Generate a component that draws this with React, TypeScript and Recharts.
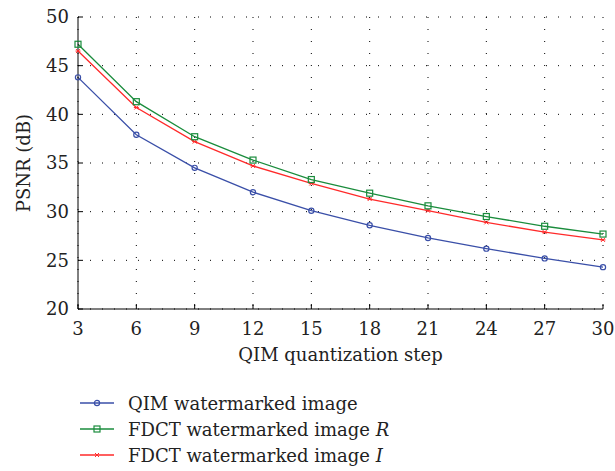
import { LineChart, Line, XAxis, YAxis, CartesianGrid } from "recharts";

const steps = [3, 6, 9, 12, 15, 18, 21, 24, 27, 30];
const qim = [43.8, 37.9, 34.5, 32.0, 30.1, 28.6, 27.3, 26.2, 25.2, 24.3];
const fdctR = [47.2, 41.3, 37.7, 35.3, 33.3, 31.9, 30.6, 29.5, 28.5, 27.7];
const fdctI = [46.5, 40.7, 37.2, 34.7, 32.9, 31.3, 30.1, 28.9, 27.9, 27.1];
const yTicks = [20, 25, 30, 35, 40, 45, 50];

const FONT = "DejaVu Serif";
const BLUE = "#3a4fa8";
const GREEN = "#1a8c3c";
const RED = "#ff2a2a";

const data = steps.map((s, i) => ({ step: s, qim: qim[i], fdctR: fdctR[i], fdctI: fdctI[i] }));

const CircleDot = (p: any) => (
  <circle key={p.index} cx={p.cx} cy={p.cy} r={2.6} fill="none" stroke={BLUE} strokeWidth={1.2} />
);
const SquareDot = (p: any) => (
  <rect key={p.index} x={p.cx - 3} y={p.cy - 3} width={6} height={6} fill="none" stroke={GREEN} strokeWidth={1.2} />
);
const StarDot = (p: any) => (
  <g key={p.index} stroke={RED} strokeWidth={1}>
    <line x1={p.cx - 2} y1={p.cy - 2} x2={p.cx + 2} y2={p.cy + 2} />
    <line x1={p.cx - 2} y1={p.cy + 2} x2={p.cx + 2} y2={p.cy - 2} />
    <line x1={p.cx - 2.5} y1={p.cy} x2={p.cx + 2.5} y2={p.cy} />
  </g>
);

const YLabel = ({ viewBox }: any) => {
  const cy = viewBox.y + viewBox.height / 2;
  return (
    <text x={30} y={cy} transform={`rotate(-90, 30, ${cy})`} textAnchor="middle" fontFamily={FONT} fontSize={18} fill="#222">
      PSNR (dB)
    </text>
  );
};

const legendItems = [
  { label: "QIM watermarked image", suffix: "", color: BLUE, kind: "circle" },
  { label: "FDCT watermarked image ", suffix: "R", color: GREEN, kind: "square" },
  { label: "FDCT watermarked image ", suffix: "I", color: RED, kind: "star" },
];

function LegendBox() {
  return (
    <div style={{ position: "absolute", left: 78, top: 390 }}>
      {legendItems.map((it) => (
        <div key={it.label + it.suffix} style={{ display: "flex", alignItems: "center", height: 26 }}>
          <svg width={40} height={12} style={{ marginRight: 10 }}>
            <line x1={2} y1={6} x2={36} y2={6} stroke={it.color} strokeWidth={1.3} />
            {it.kind === "circle" && <circle cx={19} cy={6} r={2.6} fill="none" stroke={it.color} strokeWidth={1.2} />}
            {it.kind === "square" && <rect x={16} y={3} width={6} height={6} fill="none" stroke={it.color} strokeWidth={1.2} />}
            {it.kind === "star" && (
              <g stroke={it.color} strokeWidth={1}>
                <line x1={17} y1={4} x2={21} y2={8} />
                <line x1={17} y1={8} x2={21} y2={4} />
              </g>
            )}
          </svg>
          <span style={{ fontFamily: FONT, fontSize: 18, color: "#222", whiteSpace: "pre" }}>
            {it.label}
            {it.suffix && <i>{it.suffix}</i>}
          </span>
        </div>
      ))}
    </div>
  );
}

const tickStyle = { fontFamily: FONT, fontSize: 18, fill: "#222" };

export default function App() {
  return (
    <div style={{ position: "absolute", left: 0, top: 0, width: 615, height: 471, background: "#fff" }}>
      <LineChart width={615} height={471} data={data} margin={{ top: 17, right: 12, left: 0, bottom: 102 }}>
        <CartesianGrid stroke="#000" strokeDasharray="1 11" xAxisId="bottom" yAxisId="left" />
        <XAxis
          xAxisId="bottom"
          dataKey="step"
          type="number"
          domain={[3, 30]}
          ticks={steps}
          height={60}
          tickSize={-5}
          tickMargin={18}
          stroke="#000"
          tick={tickStyle}
          label={{ value: "QIM quantization step", position: "insideBottom", offset: 8, fontFamily: FONT, fontSize: 18, fill: "#222" }}
        />
        <XAxis
          xAxisId="top"
          orientation="top"
          dataKey="step"
          type="number"
          domain={[3, 30]}
          ticks={steps}
          height={0}
          tickSize={-5}
          stroke="#000"
          tick={() => <g />}
        />
        <YAxis
          yAxisId="left"
          type="number"
          domain={[20, 50]}
          ticks={yTicks}
          width={78}
          tickSize={-5}
          tickMargin={14}
          stroke="#000"
          tick={tickStyle}
          label={<YLabel />}
        />
        <YAxis
          yAxisId="right"
          orientation="right"
          type="number"
          domain={[20, 50]}
          ticks={yTicks}
          width={0}
          tickSize={-5}
          stroke="#000"
          tick={() => <g />}
        />
        <Line xAxisId="bottom" yAxisId="left" dataKey="qim" stroke={BLUE} strokeWidth={1.3} dot={CircleDot} isAnimationActive={false} />
        <Line xAxisId="bottom" yAxisId="left" dataKey="fdctI" stroke={RED} strokeWidth={1.3} dot={StarDot} isAnimationActive={false} />
        <Line xAxisId="bottom" yAxisId="left" dataKey="fdctR" stroke={GREEN} strokeWidth={1.3} dot={SquareDot} isAnimationActive={false} />
      </LineChart>
      <LegendBox />
    </div>
  );
}
